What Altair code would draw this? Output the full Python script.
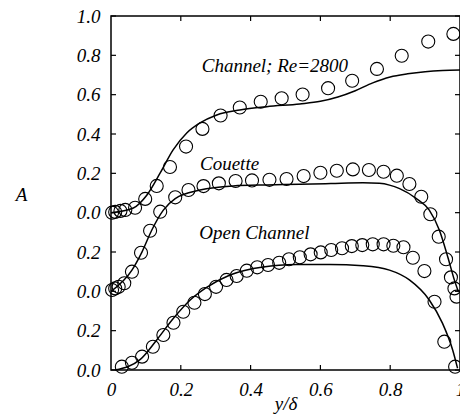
import altair as alt
import pandas as pd

# ---------------- data ----------------
# Channel; Re=2800  (plotted with offset 0.8)
ch_pts_x = [0.003, 0.012, 0.027, 0.041, 0.069, 0.098, 0.131, 0.169, 0.215, 0.262, 0.314,
            0.369, 0.429, 0.489, 0.549, 0.622, 0.691, 0.762, 0.833, 0.909, 0.981]
ch_pts_a = [0.0, 0.004, 0.009, 0.014, 0.025, 0.07, 0.136, 0.232, 0.336, 0.426, 0.494,
            0.535, 0.564, 0.582, 0.601, 0.633, 0.671, 0.731, 0.798, 0.870, 0.909]
ch_line_x = [0.0, 0.064, 0.103, 0.141, 0.178, 0.217, 0.255, 0.303, 0.369, 0.446, 0.541,
             0.6, 0.65, 0.7, 0.75, 0.8, 0.85, 0.9, 0.95, 1.0]
ch_line_a = [0.0, 0.024, 0.09, 0.202, 0.319, 0.405, 0.456, 0.497, 0.522, 0.539, 0.553,
             0.566, 0.588, 0.62, 0.66, 0.69, 0.706, 0.717, 0.723, 0.725]

# Couette (offset 0.4)
co_pts_x = [0.003, 0.012, 0.022, 0.038, 0.06, 0.086, 0.112, 0.141, 0.184, 0.222, 0.265,
            0.309, 0.357, 0.404, 0.454, 0.503, 0.552, 0.6, 0.647, 0.693, 0.739, 0.781,
            0.819, 0.855, 0.889, 0.915, 0.939, 0.96, 0.974, 0.984, 0.99]
co_pts_a = [0.007, 0.015, 0.023, 0.041, 0.1, 0.196, 0.308, 0.405, 0.478, 0.515, 0.535,
            0.549, 0.561, 0.564, 0.567, 0.571, 0.586, 0.603, 0.613, 0.62, 0.617, 0.608,
            0.588, 0.546, 0.481, 0.392, 0.278, 0.163, 0.071, 0.015, -0.027]
co_line_x = [0.0, 0.06, 0.089, 0.117, 0.15, 0.184, 0.255, 0.35, 0.446, 0.541, 0.63,
             0.722, 0.769, 0.798, 0.827, 0.874, 0.912, 0.941, 0.965, 0.984, 0.995]
co_line_a = [0.0, 0.108, 0.201, 0.312, 0.413, 0.472, 0.515, 0.536, 0.541, 0.544, 0.548,
             0.552, 0.549, 0.54, 0.522, 0.473, 0.413, 0.311, 0.175, 0.057, 0.0]

# Open Channel (offset 0)
op_pts_x = [0.031, 0.06, 0.089, 0.12, 0.15, 0.179, 0.207, 0.239, 0.269, 0.301, 0.331,
            0.36, 0.389, 0.419, 0.45, 0.482, 0.51, 0.541, 0.572, 0.601, 0.631, 0.662,
            0.69, 0.72, 0.75, 0.781, 0.809, 0.838, 0.865, 0.898, 0.927, 0.955, 0.986]
op_pts_a = [0.017, 0.037, 0.068, 0.118, 0.178, 0.24, 0.296, 0.342, 0.386, 0.423, 0.458,
            0.478, 0.505, 0.522, 0.534, 0.545, 0.563, 0.573, 0.588, 0.598, 0.61, 0.619,
            0.63, 0.635, 0.639, 0.639, 0.632, 0.624, 0.571, 0.503, 0.347, 0.144, 0.017]
op_line_x = [0.012, 0.084, 0.131, 0.179, 0.227, 0.274, 0.341, 0.436, 0.531, 0.627,
             0.722, 0.798, 0.855, 0.912, 0.95, 0.979, 0.993]
op_line_a = [0.0, 0.054, 0.153, 0.263, 0.356, 0.42, 0.483, 0.524, 0.536, 0.537,
             0.53, 0.508, 0.458, 0.356, 0.237, 0.102, 0.009]

offsets = {"Channel": 0.8, "Couette": 0.4, "Open Channel": 0.0}

y_tick_values = [0.0, 0.2, 0.4, 0.6, 0.8, 1.0, 1.2, 1.4, 1.6, 1.8]
y_tick_labels = ["0.0", "0.2", "0.0", "0.2", "0.0", "0.2", "0.4", "0.6", "0.8", "1.0"]
x_tick_values = [0.0, 0.2, 0.4, 0.6, 0.8, 1.0]
x_tick_labels = ["0", "0.2", "0.4", "0.6", "0.8", "1"]

annot_text = ["Channel; Re=2800", "Couette", "Open Channel"]
annot_x = [0.26, 0.255, 0.253]
annot_y = [1.517, 1.017, 0.666]

# ---------------- tables ----------------
def table(xs, ys, name):
    return pd.DataFrame({"x": xs, "y": [v + offsets[name] for v in ys], "series": name})

pts = pd.concat([table(ch_pts_x, ch_pts_a, "Channel"),
                 table(co_pts_x, co_pts_a, "Couette"),
                 table(op_pts_x, op_pts_a, "Open Channel")])
lines = pd.concat([table(ch_line_x, ch_line_a, "Channel"),
                   table(co_line_x, co_line_a, "Couette"),
                   table(op_line_x, op_line_a, "Open Channel")])
ann = pd.DataFrame({"x": annot_x, "y": annot_y, "t": annot_text})
yticks = pd.DataFrame({"y": y_tick_values})
xticks = pd.DataFrame({"x": x_tick_values[1:-1]})

FONT = "Liberation Serif"
W, H = 349, 354

xscale = alt.Scale(domain=[0, 1], nice=False, zero=False)
yscale = alt.Scale(domain=[0, 1.8], nice=False, zero=False)

ylab_expr = "[" + ",".join("'%s'" % s for s in y_tick_labels) + "][round(datum.value*5)]"
xlab_expr = "[" + ",".join("'%s'" % s for s in x_tick_labels) + "][round(datum.value*5)]"

x_axis = alt.Axis(values=x_tick_values, labelExpr=xlab_expr, ticks=False, domain=False,
                  grid=False, labelPadding=10, labelFont=FONT, labelFontSize=19,
                  labelFontStyle="italic", labelColor="black", labelFlush=False,
                  labelOverlap=False,
                  title="y/δ", titleFont=FONT, titleFontSize=19, titleFontStyle="italic",
                  titleFontWeight="normal", titleColor="black", titleX=W / 2, titleY=39,
                  titleAlign="center", titleBaseline="alphabetic")
y_axis = alt.Axis(values=y_tick_values, labelExpr=ylab_expr, ticks=False, domain=False,
                  grid=False, labelPadding=11, labelFont=FONT, labelFontSize=19,
                  labelFontStyle="italic", labelColor="black", labelFlush=False,
                  labelOverlap=False,
                  title="A", titleFont=FONT, titleFontSize=19, titleFontStyle="italic",
                  titleFontWeight="normal", titleColor="black", titleAngle=0,
                  titleX=-90, titleY=184, titleAlign="center", titleBaseline="alphabetic")

X = alt.X("x:Q", scale=xscale, axis=x_axis)
Y = alt.Y("y:Q", scale=yscale, axis=y_axis)

line_layer = alt.Chart(lines).mark_line(color="black", strokeWidth=1.5,
                                        interpolate="monotone").encode(
    x=X, y=Y, detail="series:N",
)

pt_layer = alt.Chart(pts).mark_point(shape="circle", filled=False, size=170,
                                     color="black", strokeWidth=1.1, opacity=1).encode(
    x=X, y=Y,
)

text_layer = alt.Chart(ann).mark_text(align="left", baseline="alphabetic", font=FONT,
                                      fontSize=19, fontStyle="italic", color="black").encode(
    x=X, y=Y, text="t:N",
)

tick_l = alt.Chart(yticks).mark_rule(color="black", strokeWidth=1.2).encode(
    y=Y, x=alt.value(0), x2=alt.value(5))
tick_r = alt.Chart(yticks).mark_rule(color="black", strokeWidth=1.2).encode(
    y=Y, x=alt.value(W), x2=alt.value(W - 5))
tick_b = alt.Chart(xticks).mark_rule(color="black", strokeWidth=1.2).encode(
    x=X, y=alt.value(H), y2=alt.value(H - 5))
tick_t = alt.Chart(xticks).mark_rule(color="black", strokeWidth=1.2).encode(
    x=X, y=alt.value(0), y2=alt.value(5))

chart = alt.layer(line_layer, pt_layer, text_layer, tick_l, tick_r, tick_b, tick_t).properties(
    width=W, height=H,
    autosize=alt.AutoSizeParams(type="none"),
    padding={"left": 111, "top": 16, "right": 0, "bottom": 46},
    background="white",
).configure_view(stroke="black", strokeWidth=1.5)

chart.save("out.html", embed_options={"renderer": "svg", "actions": False})
